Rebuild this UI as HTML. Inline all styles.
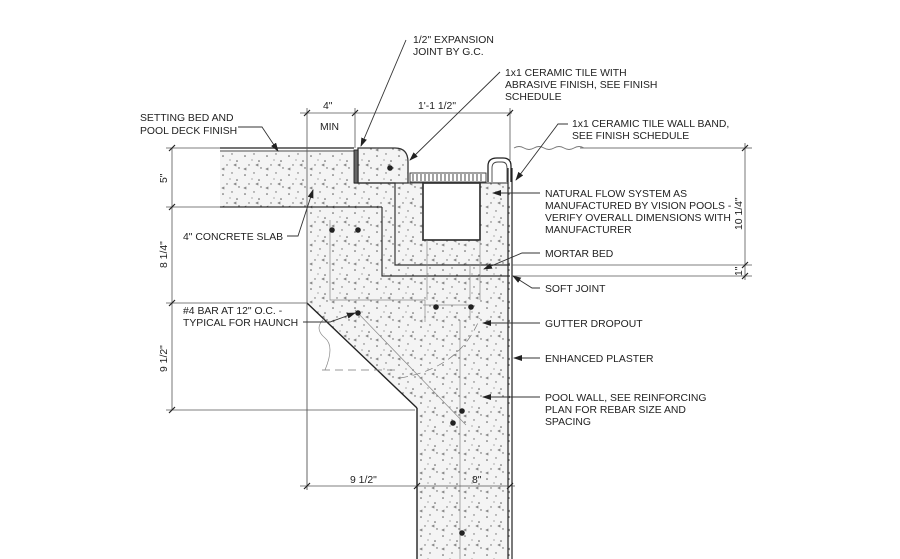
<!DOCTYPE html>
<html><head><meta charset="utf-8"><style>
html,body{margin:0;padding:0;background:#fff;width:900px;height:559px;overflow:hidden}
text{font-family:"Liberation Sans",sans-serif;font-size:10.4px;fill:#222}
</style></head><body>
<svg width="900" height="559" viewBox="0 0 900 559" xmlns="http://www.w3.org/2000/svg">
<defs>
<pattern id="conc" width="22" height="19" patternUnits="userSpaceOnUse">
<rect width="22" height="19" fill="#f4f4f4"/>
<circle cx="3" cy="4" r="0.8" fill="#555"/><circle cx="12" cy="2" r="0.7" fill="#666"/>
<circle cx="17" cy="9" r="0.8" fill="#555"/><circle cx="7" cy="13" r="0.7" fill="#666"/>
<circle cx="19" cy="16" r="0.7" fill="#555"/><circle cx="10" cy="8" r="0.6" fill="#777"/>
<path d="M14 13 l2 -1 l0 2 z" fill="none" stroke="#666" stroke-width="0.6"/>
<path d="M2 17 l2 -1 l0 2 z" fill="none" stroke="#666" stroke-width="0.6"/>
</pattern>
<marker id="ar" markerWidth="9" markerHeight="6" refX="8" refY="3" orient="auto" markerUnits="userSpaceOnUse"><path d="M0 0 L9 3 L0 6 z" fill="#222"/></marker>
</defs>
<g stroke="#444" stroke-width="0.9" fill="none">
<polygon points="220,152 354,152 354,183 408,183 408,182 488,182 488,160 510,160 510,559 417,559 417,408 307,303 307,207 220,207" fill="url(#conc)" stroke="none"/>
<path d="M358,148 L395,148 Q408,148 408,162 L408,183 L358,183 z" fill="url(#conc)" stroke="#333" stroke-width="1.3"/>
<rect x="423" y="183" width="57" height="57" fill="#fff" stroke="#333" stroke-width="1.7"/>
<line x1="220" y1="148" x2="354" y2="148" stroke="#222" stroke-width="1.3"/>
<line x1="220" y1="151" x2="354" y2="151" stroke="#444"/>
<line x1="220" y1="207" x2="382" y2="207" stroke="#333" stroke-width="1.2"/>
<polyline points="382,207 382,276 510,276" stroke="#333" stroke-width="1.2"/>
<polyline points="354,183 395,183 395,265 510,265" stroke="#333" stroke-width="1.2"/>
<line x1="408" y1="183" x2="423" y2="183" stroke="#333"/>
<line x1="480" y1="183" x2="508" y2="183" stroke="#333"/>
<rect x="354" y="150" width="4" height="33" fill="#666" stroke="#222"/>
<rect x="410" y="173" width="76" height="9" fill="#fff" stroke="#333"/>
<path d="M413 174v7M417 174v7M421 174v7M425 174v7M429 174v7M433 174v7M437 174v7M441 174v7M445 174v7M449 174v7M453 174v7M457 174v7M461 174v7M465 174v7M469 174v7M473 174v7M477 174v7M481 174v7" stroke="#333"/>
<path d="M488,182 L488,166 Q488,158 497,158 L503,158 Q511,158 511,166 L511,182" stroke="#222" stroke-width="1.3" fill="#fff"/>
<path d="M492,182 L492,168 Q492,162 498,162 L502,162 Q507,162 507,168 L507,182" stroke="#444"/>
<line x1="417" y1="408" x2="417" y2="559" stroke="#222" stroke-width="1.4"/>
<line x1="307" y1="303" x2="417" y2="408" stroke="#222" stroke-width="1.4"/>
<line x1="307" y1="207" x2="307" y2="490" stroke="#555"/>
<line x1="508" y1="168" x2="508" y2="559" stroke="#222" stroke-width="1.2"/>
<line x1="512" y1="168" x2="512" y2="559" stroke="#222" stroke-width="1.2"/>
<g stroke="#888" stroke-width="0.7">
<line x1="460" y1="320" x2="460" y2="559"/>
<line x1="355" y1="310" x2="466" y2="425"/>
<polyline points="330,220 330,300 425,300 425,322"/>
<polyline points="423,305 470,305 470,320"/>
<line x1="470" y1="265" x2="470" y2="300"/>
<line x1="427" y1="240" x2="427" y2="300"/>
<line x1="480" y1="240" x2="480" y2="300"/>
</g>
<path d="M325,318 q-12,10 0,20 q10,8 0,32" stroke="#888" stroke-width="0.7"/>
<line x1="322" y1="370" x2="400" y2="370" stroke="#777" stroke-dasharray="8,5" stroke-width="0.7"/>
<path d="M400,378 q60,-10 80,-60" stroke="#777" stroke-dasharray="8,5" stroke-width="0.7"/>
<path d="M514,148 q5,-3 10,0 t10,0 t10,0 t10,0 t10,0 t10,0 t10,0" stroke="#777"/>
<line x1="580" y1="148" x2="752" y2="148" stroke="#777"/>
<g stroke="#555" stroke-width="0.8">
<line x1="172" y1="148" x2="172" y2="410"/>
<line x1="166" y1="148" x2="220" y2="148"/>
<line x1="166" y1="207" x2="220" y2="207"/>
<line x1="166" y1="303" x2="307" y2="303"/>
<line x1="166" y1="410" x2="415" y2="410"/>
<line x1="300" y1="113" x2="512" y2="113"/>
<line x1="307" y1="108" x2="307" y2="207"/>
<line x1="355" y1="108" x2="355" y2="148"/>
<line x1="510" y1="108" x2="510" y2="160"/>
<line x1="300" y1="486" x2="515" y2="486"/>
<line x1="745" y1="143" x2="745" y2="280"/>
<line x1="512" y1="265" x2="752" y2="265"/>
<line x1="512" y1="276" x2="752" y2="276"/>
</g>
<g stroke="#222" stroke-width="1.2">
<path d="M169,151 l6,-6M169,210 l6,-6M169,306 l6,-6M169,413 l6,-6M304,116 l6,-6M352,116 l6,-6M507,116 l6,-6M304,489 l6,-6M414,489 l6,-6M507,489 l6,-6M742,151 l6,-6M742,268 l6,-6M742,279 l6,-6"/>
</g>
<g stroke="#333" stroke-width="0.9">
<line x1="406" y1="40" x2="361" y2="146" marker-end="url(#ar)"/>
<line x1="500" y1="72" x2="410" y2="160" marker-end="url(#ar)"/>
<polyline points="568,124 558,124 516,180" marker-end="url(#ar)"/>
<polyline points="238,127 262,127 278,151" marker-end="url(#ar)"/>
<line x1="540" y1="193" x2="493" y2="193" marker-end="url(#ar)"/>
<polyline points="540,253 522,253 484,269" marker-end="url(#ar)"/>
<polyline points="540,288 532,288 513,276" marker-end="url(#ar)"/>
<line x1="540" y1="323" x2="483" y2="323" marker-end="url(#ar)"/>
<line x1="540" y1="358" x2="514" y2="358" marker-end="url(#ar)"/>
<line x1="540" y1="397" x2="483" y2="397" marker-end="url(#ar)"/>
<polyline points="287,236 298,236 313,190" marker-end="url(#ar)"/>
<polyline points="303,322 330,322 355,313" marker-end="url(#ar)"/>
</g>
</g>
<g fill="#222">
<circle cx="332" cy="230" r="2.8"/><circle cx="358" cy="230" r="2.8"/>
<circle cx="390" cy="168" r="2.8"/>
<circle cx="436" cy="307" r="2.8"/><circle cx="471" cy="307" r="2.8"/>
<circle cx="358" cy="313" r="2.8"/>
<circle cx="462" cy="411" r="2.8"/><circle cx="453" cy="423" r="2.8"/>
<circle cx="462" cy="533" r="2.8"/>
</g>
<text x="413" y="43">1/2" EXPANSION</text>
<text x="413" y="55">JOINT BY G.C.</text>
<text x="505" y="76">1x1 CERAMIC TILE WITH</text>
<text x="505" y="88">ABRASIVE FINISH, SEE FINISH</text>
<text x="505" y="100">SCHEDULE</text>
<text x="572" y="127">1x1 CERAMIC TILE WALL BAND,</text>
<text x="572" y="139">SEE FINISH SCHEDULE</text>
<text x="140" y="121">SETTING BED AND</text>
<text x="140" y="134">POOL DECK FINISH</text>
<text x="323" y="109">4"</text>
<text x="320" y="130">MIN</text>
<text x="418" y="109">1'-1 1/2"</text>
<text x="545" y="197">NATURAL FLOW SYSTEM AS</text>
<text x="545" y="209">MANUFACTURED BY VISION POOLS -</text>
<text x="545" y="221">VERIFY OVERALL DIMENSIONS WITH</text>
<text x="545" y="233">MANUFACTURER</text>
<text x="545" y="257">MORTAR BED</text>
<text x="545" y="292">SOFT JOINT</text>
<text x="545" y="327">GUTTER DROPOUT</text>
<text x="545" y="362">ENHANCED PLASTER</text>
<text x="545" y="401">POOL WALL, SEE REINFORCING</text>
<text x="545" y="413">PLAN FOR REBAR SIZE AND</text>
<text x="545" y="425">SPACING</text>
<text x="183" y="240">4" CONCRETE SLAB</text>
<text x="183" y="314">#4 BAR AT 12" O.C. -</text>
<text x="183" y="326">TYPICAL FOR HAUNCH</text>
<text x="350" y="483">9 1/2"</text>
<text x="472" y="483">8"</text>
<text transform="translate(167,183) rotate(-90)">5"</text>
<text transform="translate(167,268) rotate(-90)">8 1/4"</text>
<text transform="translate(167,372) rotate(-90)">9 1/2"</text>
<text transform="translate(742,230) rotate(-90)">10 1/4"</text>
<text transform="translate(742,276) rotate(-90)">1"</text>
</svg>
</body></html>
